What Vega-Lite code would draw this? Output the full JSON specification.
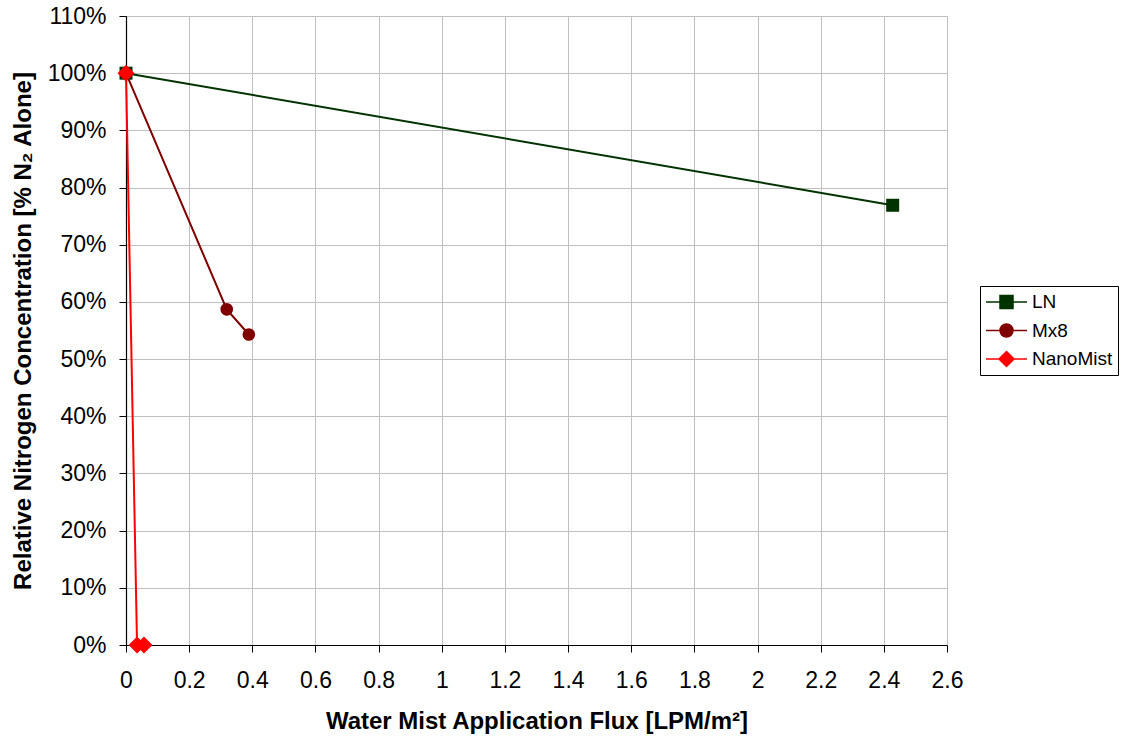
{
  "$schema": "https://vega.github.io/schema/vega-lite/v6.json",
  "width": 821,
  "height": 629,
  "autosize": "none",
  "padding": {"left": 126, "top": 16, "right": 178, "bottom": 97},
  "background": "white",
  "config": {
    "font": "Liberation Sans",
    "view": {"stroke": "#b3b3b3", "strokeWidth": 1},
    "axis": {
      "gridColor": "#c0c0c0",
      "gridWidth": 1,
      "domainColor": "#000000",
      "domainWidth": 1.2,
      "tickColor": "#000000",
      "tickSize": 7,
      "labelFont": "Liberation Sans",
      "labelFontSize": 23,
      "labelColor": "#000000",
      "titleFont": "Liberation Sans",
      "titleFontSize": 24,
      "titleFontWeight": "bold",
      "titleColor": "#000000"
    }
  },
  "data": {
    "values": [
      {"series": "LN", "flux": 0, "rel": 1.0},
      {"series": "LN", "flux": 2.428, "rel": 0.769},
      {"series": "Mx8", "flux": 0, "rel": 1.0},
      {"series": "Mx8", "flux": 0.319, "rel": 0.587},
      {"series": "Mx8", "flux": 0.389, "rel": 0.543},
      {"series": "NanoMist", "flux": 0, "rel": 1.0},
      {"series": "NanoMist", "flux": 0.035, "rel": 0.0},
      {"series": "NanoMist", "flux": 0.057, "rel": 0.0}
    ]
  },
  "encoding": {
    "x": {
      "field": "flux",
      "type": "quantitative",
      "scale": {"domain": [0, 2.6], "nice": false, "zero": false},
      "axis": {
        "title": "Water Mist Application Flux [LPM/m²]",
        "values": [0, 0.2, 0.4, 0.6, 0.8, 1, 1.2, 1.4, 1.6, 1.8, 2, 2.2, 2.4, 2.6],
        "format": "~g",
        "labelPadding": 17,
        "titlePadding": 17,
        "labelFlush": false
      }
    },
    "y": {
      "field": "rel",
      "type": "quantitative",
      "scale": {"domain": [0, 1.1], "nice": false},
      "axis": {
        "title": "Relative Nitrogen Concentration [% N₂ Alone]",
        "values": [0, 0.1, 0.2, 0.3, 0.4, 0.5, 0.6, 0.7, 0.8, 0.9, 1.0, 1.1],
        "format": ".0%",
        "labelPadding": 13,
        "titlePadding": 12,
        "labelFlush": false
      }
    }
  },
  "layer": [
    {
      "mark": {"type": "line", "strokeWidth": 2},
      "encoding": {
        "color": {
          "field": "series",
          "type": "nominal",
          "scale": {"domain": ["LN", "Mx8", "NanoMist"], "range": ["#003300", "#800000", "#ff0000"]},
          "legend": {
            "title": null,
            "orient": "none",
            "legendX": 854,
            "legendY": 270,
            "padding": 5,
            "strokeColor": "#000000",
            "fillColor": "white",
            "symbolSize": 400,
            "symbolStrokeWidth": 1.5,
            "symbolOpacity": 1,
            "rowPadding": 7.5,
            "labelOffset": 25,
            "labelFontSize": 19,
            "labelFont": "Liberation Sans",
            "labelColor": "#000000",
            "labelLimit": 200,
            "encode": {
              "symbols": {
                "update": {
                  "shape": {"signal": "datum.value === 'LN' ? 'M-1,0H3.1M0.4,-0.65H1.7V0.65H0.4Z' : datum.value === 'Mx8' ? 'M-1,0H3.1M1.7,0A0.65,0.65,0,1,1,0.4,0A0.65,0.65,0,1,1,1.7,0Z' : 'M-1,0H3.1M1.05,-0.75L1.8,0L1.05,0.75L0.3,0Z'"},
                  "fill": {"signal": "scale('color', datum.value)"},
                  "stroke": {"signal": "scale('color', datum.value)"}
                }
              }
            }
          }
        }
      }
    },
    {
      "transform": [{"filter": "datum.series === 'LN'"}],
      "mark": {"type": "point", "shape": "square", "size": 169, "filled": true, "opacity": 1, "color": "#003300"}
    },
    {
      "transform": [{"filter": "datum.series === 'Mx8'"}],
      "mark": {"type": "point", "shape": "circle", "size": 160, "filled": true, "opacity": 1, "color": "#800000"}
    },
    {
      "transform": [{"filter": "datum.series === 'NanoMist'"}],
      "mark": {"type": "point", "shape": "diamond", "size": 289, "filled": true, "opacity": 1, "color": "#ff0000"}
    }
  ]
}
